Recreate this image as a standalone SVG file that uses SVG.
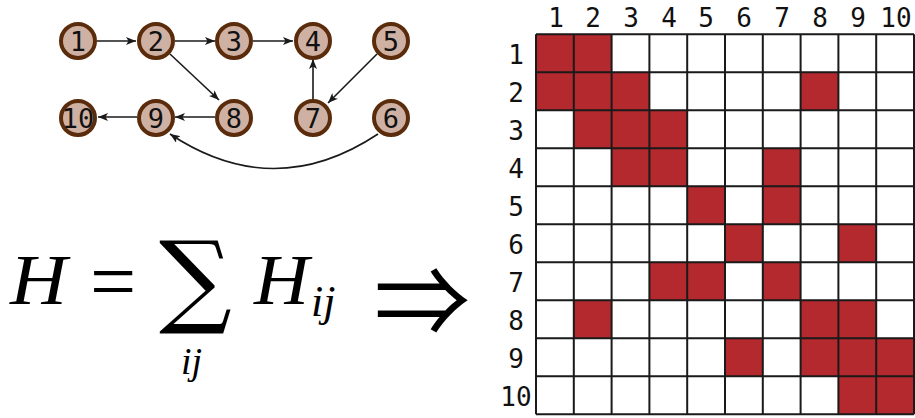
<svg xmlns="http://www.w3.org/2000/svg" width="915" height="418" viewBox="0 0 915 418">
<defs>
<style>
.node circle{fill:#cfb1a4;stroke:#5b2c0c;stroke-width:4}
.node text{font-family:"DejaVu Sans Mono",monospace;font-size:27px;fill:#111;text-anchor:middle}
.edge{stroke:#1a1a1a;stroke-width:1.6;fill:none;marker-end:url(#ah)}
.lbl{font-family:"DejaVu Sans Mono",monospace;font-size:26px;fill:#111;text-anchor:middle}
.on{fill:#b3292e}
.gl{stroke:#1a1a1a;stroke-width:2;fill:none}
.math{font-family:"Liberation Serif",serif;fill:#000}
</style>
<marker id="ah" viewBox="0 0 10 8" refX="10" refY="4" markerWidth="10" markerHeight="8" markerUnits="userSpaceOnUse" orient="auto">
<path d="M0,0 L10,4 L0,8 L2.5,4 z" fill="#1a1a1a"/>
</marker>
</defs>
<rect width="915" height="418" fill="#fff"/>
<g id="connectors">
<line class="edge" x1="97" y1="41" x2="136" y2="41"/>
<line class="edge" x1="175" y1="41" x2="215" y2="41"/>
<line class="edge" x1="253" y1="41" x2="293" y2="41"/>
<line class="edge" x1="170" y1="54" x2="219" y2="100"/>
<line class="edge" x1="377" y1="54" x2="328" y2="103"/>
<line class="edge" x1="313" y1="99" x2="313" y2="59"/>
<line class="edge" x1="215" y1="117" x2="175" y2="117"/>
<line class="edge" x1="137" y1="117" x2="98" y2="117"/>
<path class="edge" d="M378,134 Q274,203 170,134"/>
</g>
<g id="n1" class="node"><circle cx="78" cy="41" r="17"/><text x="78" y="50.5">1</text></g>
<g id="n2" class="node"><circle cx="156" cy="41" r="17"/><text x="156" y="50.5">2</text></g>
<g id="n3" class="node"><circle cx="234" cy="41" r="17"/><text x="234" y="50.5">3</text></g>
<g id="n4" class="node"><circle cx="313" cy="41" r="17"/><text x="313" y="50.5">4</text></g>
<g id="n5" class="node"><circle cx="391" cy="41" r="17"/><text x="391" y="50.5">5</text></g>
<g id="n10" class="node"><circle cx="78" cy="118" r="17"/><text x="78" y="127.5">10</text></g>
<g id="n9" class="node"><circle cx="156" cy="118" r="17"/><text x="156" y="127.5">9</text></g>
<g id="n8" class="node"><circle cx="234" cy="118" r="17"/><text x="234" y="127.5">8</text></g>
<g id="n7" class="node"><circle cx="313" cy="118" r="17"/><text x="313" y="127.5">7</text></g>
<g id="n6" class="node"><circle cx="391" cy="118" r="17"/><text x="391" y="127.5">6</text></g>
<g id="formula">
<text class="math" x="10" y="304" font-size="72" font-style="italic" textLength="57" lengthAdjust="spacingAndGlyphs">H</text>
<text class="math" x="90" y="309" font-size="82">=</text>
<text class="math" x="159" y="314" font-size="102" style="font-family:'DejaVu Serif',serif">∑</text>
<text class="math" x="181" y="374" font-size="38" font-style="italic">ij</text>
<text class="math" x="254" y="304" font-size="72" font-style="italic" textLength="55" lengthAdjust="spacingAndGlyphs">H</text>
<text class="math" x="311" y="316" font-size="44" font-style="italic">ij</text>
<text class="math" x="374" y="336" font-size="96" style="font-family:'Noto Sans CJK JP','DejaVu Serif',serif">⇒</text>
</g>
<g id="matrix">
<rect class="on" x="536" y="34.3" width="37.8" height="38"/>
<rect class="on" x="573.8" y="34.3" width="37.8" height="38"/>
<rect class="on" x="536" y="72.3" width="37.8" height="38"/>
<rect class="on" x="573.8" y="72.3" width="37.8" height="38"/>
<rect class="on" x="611.6" y="72.3" width="37.8" height="38"/>
<rect class="on" x="800.6" y="72.3" width="37.8" height="38"/>
<rect class="on" x="573.8" y="110.3" width="37.8" height="38"/>
<rect class="on" x="611.6" y="110.3" width="37.8" height="38"/>
<rect class="on" x="649.4" y="110.3" width="37.8" height="38"/>
<rect class="on" x="611.6" y="148.3" width="37.8" height="38"/>
<rect class="on" x="649.4" y="148.3" width="37.8" height="38"/>
<rect class="on" x="762.8" y="148.3" width="37.8" height="38"/>
<rect class="on" x="687.2" y="186.3" width="37.8" height="38"/>
<rect class="on" x="762.8" y="186.3" width="37.8" height="38"/>
<rect class="on" x="725" y="224.3" width="37.8" height="38"/>
<rect class="on" x="838.4" y="224.3" width="37.8" height="38"/>
<rect class="on" x="649.4" y="262.3" width="37.8" height="38"/>
<rect class="on" x="687.2" y="262.3" width="37.8" height="38"/>
<rect class="on" x="762.8" y="262.3" width="37.8" height="38"/>
<rect class="on" x="573.8" y="300.3" width="37.8" height="38"/>
<rect class="on" x="800.6" y="300.3" width="37.8" height="38"/>
<rect class="on" x="838.4" y="300.3" width="37.8" height="38"/>
<rect class="on" x="725" y="338.3" width="37.8" height="38"/>
<rect class="on" x="800.6" y="338.3" width="37.8" height="38"/>
<rect class="on" x="838.4" y="338.3" width="37.8" height="38"/>
<rect class="on" x="876.2" y="338.3" width="37.8" height="38"/>
<rect class="on" x="838.4" y="376.3" width="37.8" height="38"/>
<rect class="on" x="876.2" y="376.3" width="37.8" height="38"/>
<path class="gl" d="M536,34.3V414.3M573.8,34.3V414.3M611.6,34.3V414.3M649.4,34.3V414.3M687.2,34.3V414.3M725,34.3V414.3M762.8,34.3V414.3M800.6,34.3V414.3M838.4,34.3V414.3M876.2,34.3V414.3M914,34.3V414.3M536,34.3H914M536,72.3H914M536,110.3H914M536,148.3H914M536,186.3H914M536,224.3H914M536,262.3H914M536,300.3H914M536,338.3H914M536,376.3H914M536,414.3H914"/>
<text class="lbl" x="556" y="27">1</text>
<text class="lbl" x="593" y="27">2</text>
<text class="lbl" x="631" y="27">3</text>
<text class="lbl" x="669" y="27">4</text>
<text class="lbl" x="706" y="27">5</text>
<text class="lbl" x="744" y="27">6</text>
<text class="lbl" x="782" y="27">7</text>
<text class="lbl" x="820" y="27">8</text>
<text class="lbl" x="858" y="27">9</text>
<text class="lbl" x="896" y="27">10</text>
<text class="lbl" x="516" y="63.5">1</text>
<text class="lbl" x="516" y="101.5">2</text>
<text class="lbl" x="516" y="139.5">3</text>
<text class="lbl" x="516" y="177.5">4</text>
<text class="lbl" x="516" y="215.5">5</text>
<text class="lbl" x="516" y="253.5">6</text>
<text class="lbl" x="516" y="291.5">7</text>
<text class="lbl" x="516" y="329.5">8</text>
<text class="lbl" x="516" y="367.5">9</text>
<text class="lbl" x="516" y="405.5">10</text>
</g>
</svg>
